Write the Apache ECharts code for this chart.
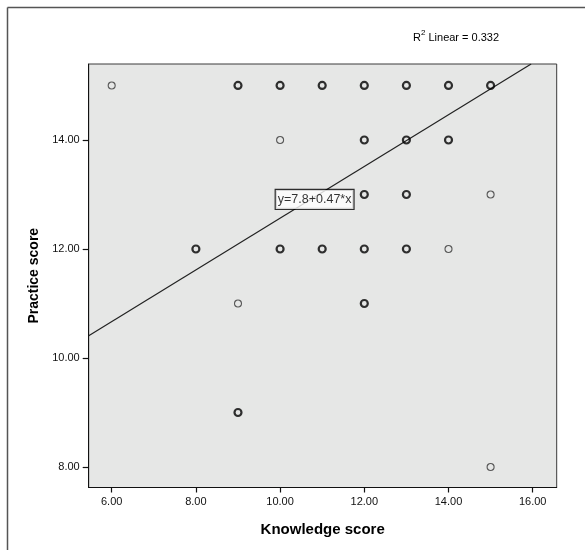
<!DOCTYPE html>
<html>
<head>
<meta charset="utf-8">
<script src="https://cdn.jsdelivr.net/npm/echarts@6/dist/echarts.min.js"></script>
<style>
html,body{margin:0;padding:0;background:#fff;}
#chart{width:585px;height:550px;}
</style>
</head>
<body>
<div id="chart"></div>
<script>
// Single observations (thin circles)
var knowledgeSingle = [6, 10, 15, 14, 9, 15];
var practiceSingle  = [15, 14, 13, 12, 11, 8];
// Overlapping observations (bold circles)
var knowledgeMulti = [9, 10, 11, 12, 13, 14, 15, 12, 13, 14, 12, 13, 8, 10, 11, 12, 13, 12, 9];
var practiceMulti  = [15, 15, 15, 15, 15, 15, 15, 14, 14, 14, 13, 13, 12, 12, 12, 12, 12, 11, 9];
// Tick labels
var xTicks = [6, 8, 10, 12, 14, 16];
var yTicks = [8, 10, 12, 14];
// Fit line
var fitIntercept = 7.82;
var fitSlope = 0.4745;
var fitLabel = 'y=7.8+0.47*x';
var r2Label = '0.332';

var xMin = 5.454, xMax = 16.57, yMin = 7.624, yMax = 15.394;

function pairs(xs, ys) { return xs.map(function (x, i) { return [x, ys[i]]; }); }

var xEnd = Math.min(xMax, (yMax - fitIntercept) / fitSlope);
var lineData = [[xMin, fitIntercept + fitSlope * xMin], [xEnd, fitIntercept + fitSlope * xEnd]];

var chart = echarts.init(document.getElementById('chart'), null, {renderer: 'canvas'});
var fontFam = 'Liberation Sans, Arial, sans-serif';

chart.setOption({
  animation: false,
  backgroundColor: '#ffffff',
  grid: {left: 88.7, right: 28.3, top: 64, bottom: 62.5, show: true,
         backgroundColor: '#e6e7e6', borderColor: '#3a3a3a', borderWidth: 1},
  xAxis: {
    type: 'value', min: xMin, max: xMax,
    name: 'Knowledge score', nameLocation: 'middle', nameGap: 35,
    nameTextStyle: {fontFamily: fontFam, fontWeight: 'bold', fontSize: 15, color: '#000'},
    axisLine: {show: true, onZero: false, lineStyle: {color: '#111', width: 1}},
    axisTick: {show: true, length: 5, customValues: xTicks, lineStyle: {color: '#111', width: 1.2}},
    axisLabel: {customValues: xTicks, fontFamily: fontFam, fontSize: 11, color: '#111', margin: 9,
                formatter: function (v) { return v.toFixed(2); }},
    splitLine: {show: false}
  },
  yAxis: {
    type: 'value', min: yMin, max: yMax,
    name: 'Practice score', nameLocation: 'middle', nameGap: 46,
    nameTextStyle: {fontFamily: fontFam, fontWeight: 'bold', fontSize: 14, color: '#000'},
    axisLine: {show: true, onZero: false, lineStyle: {color: '#111', width: 1}},
    axisTick: {show: true, length: 6, customValues: yTicks, lineStyle: {color: '#111', width: 1.2}},
    axisLabel: {customValues: yTicks, fontFamily: fontFam, fontSize: 11, color: '#111', margin: 9,
                formatter: function (v) { return v.toFixed(2); }},
    splitLine: {show: false}
  },
  graphic: [
    {type: 'line', shape: {x1: 7.5, y1: 7.5, x2: 585, y2: 7.5}, style: {stroke: '#555', lineWidth: 1.5}},
    {type: 'line', shape: {x1: 7.5, y1: 7.5, x2: 7.5, y2: 550}, style: {stroke: '#555', lineWidth: 1.5}},
    {type: 'text', left: 413, top: 29, style: {
      text: '{n|R}{s|2}{n| Linear = ' + r2Label + '}',
      rich: {
        n: {fontFamily: fontFam, fontSize: 11, color: '#111', verticalAlign: 'bottom', lineHeight: 14},
        s: {fontFamily: fontFam, fontSize: 8, color: '#111', verticalAlign: 'top', lineHeight: 14, padding: [0, 0, 6, 0]}
      }
    }}
  ],
  series: [
    {
      type: 'line', data: lineData, symbol: 'none', silent: true, z: 1,
      lineStyle: {color: '#222', width: 1.2}
    },
    {
      type: 'scatter', data: pairs(knowledgeSingle, practiceSingle), symbol: 'circle', symbolSize: 7, z: 3,
      itemStyle: {color: 'rgba(0,0,0,0)', borderColor: '#333', borderWidth: 1.1}
    },
    {
      type: 'scatter', data: pairs(knowledgeMulti, practiceMulti), symbol: 'circle', symbolSize: 7, z: 3,
      itemStyle: {color: 'rgba(0,0,0,0)', borderColor: '#000', borderWidth: 2.2}
    },
    {
      type: 'scatter', data: [[10.82, 12.91]], symbolSize: 0, z: 5, silent: true,
      label: {show: true, position: 'inside', formatter: fitLabel, fontFamily: fontFam, fontSize: 12.5, color: '#000',
              backgroundColor: '#ffffff', borderColor: '#000', borderWidth: 1.2, padding: [3, 2, 3, 2]}
    }
  ]
});
</script>
</body>
</html>
